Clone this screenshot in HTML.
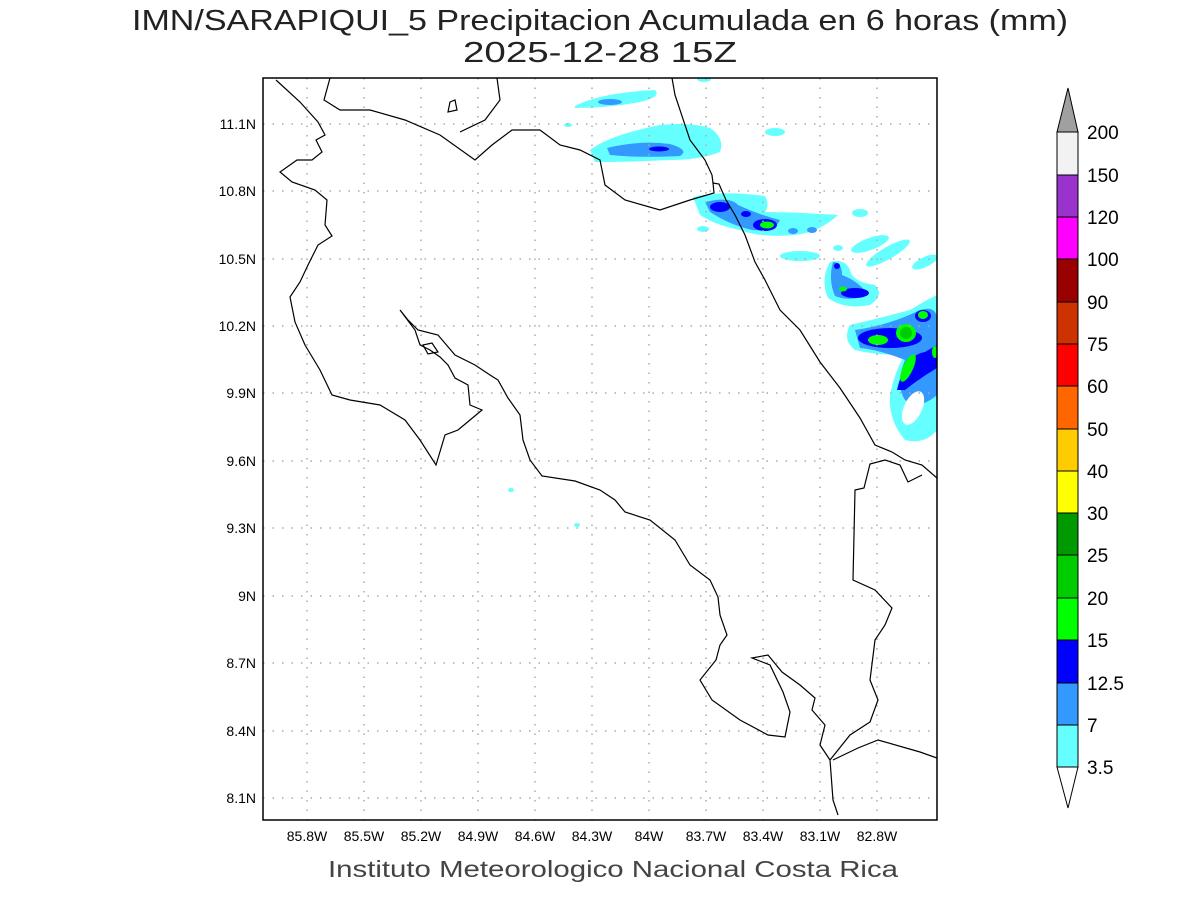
<!DOCTYPE html>
<html><head><meta charset="utf-8"><style>
body{margin:0;background:#fff;}
svg{display:block;font-family:"Liberation Sans",sans-serif;}
</style></head><body>
<svg width="1200" height="900" viewBox="0 0 1200 900" xmlns="http://www.w3.org/2000/svg">
<rect width="1200" height="900" fill="#fff"/>
<text x="600" y="30" font-size="29" text-anchor="middle" fill="#222" textLength="936" lengthAdjust="spacingAndGlyphs">IMN/SARAPIQUI_5 Precipitacion Acumulada en 6 horas (mm)</text>
<text x="600" y="62" font-size="29" text-anchor="middle" fill="#222" textLength="274" lengthAdjust="spacingAndGlyphs">2025-12-28 15Z</text>
<text x="613" y="877" font-size="23" text-anchor="middle" fill="#444" textLength="570" lengthAdjust="spacingAndGlyphs">Instituto Meteorologico Nacional Costa Rica</text>
<clipPath id="c"><rect x="263" y="78" width="674" height="742"/></clipPath>
<g clip-path="url(#c)">
<!-- precip -->
<g fill="#66ffff">
<path d="M575 106 Q600 93 655 90 Q662 97 640 102 Q610 108 575 108Z"/>
<path d="M590 150 Q610 135 660 125 Q690 122 710 128 Q725 138 720 152 Q700 160 670 160 Q630 162 595 162Z"/>
<path d="M693 197 Q720 190 765 196 Q770 205 765 212 Q790 212 838 215 Q820 232 795 235 Q760 238 740 230 Q715 225 700 215Z"/>
<path d="M830 262 Q845 258 850 270 Q852 282 875 285 Q885 295 870 305 Q845 310 828 298 Q820 280 830 262Z"/>
<path d="M850 325 Q880 318 910 310 Q930 298 937 295 L937 430 Q925 445 905 440 Q888 420 890 395 Q895 370 905 355 Q875 355 855 350 Q842 340 850 325Z"/>
<ellipse cx="800" cy="256" rx="20" ry="5"/><ellipse cx="870" cy="244" rx="20" ry="6" transform="rotate(-20 870 244)"/>
<ellipse cx="888" cy="253" rx="25" ry="6" transform="rotate(-30 888 253)"/>
<ellipse cx="925" cy="262" rx="14" ry="5" transform="rotate(-25 925 262)"/>
<ellipse cx="860" cy="213" rx="8" ry="4"/><ellipse cx="775" cy="132" rx="10" ry="4"/><ellipse cx="704" cy="79" rx="7" ry="3"/>
<ellipse cx="703" cy="229" rx="6" ry="3"/><ellipse cx="838" cy="248" rx="5" ry="3"/>
<ellipse cx="511" cy="490" rx="3" ry="2"/><ellipse cx="577" cy="525" rx="3" ry="2"/><ellipse cx="568" cy="125" rx="4" ry="2"/>
</g>
<g fill="#3399ff">
<ellipse cx="610" cy="102" rx="12" ry="3"/>
<path d="M607 148 Q640 140 670 144 Q690 150 680 156 Q640 158 610 155Z"/>
<path d="M705 202 Q730 196 738 205 Q760 215 780 220 Q775 232 752 230 Q730 225 710 212Z"/>
<path d="M833 262 Q842 262 842 275 Q860 282 868 295 Q850 302 835 296 Q828 280 833 262Z"/>
<path d="M855 330 Q890 325 920 310 Q937 305 937 320 L937 395 Q920 410 905 400 Q895 385 905 360 Q880 350 860 348Z"/>
<ellipse cx="793" cy="231" rx="5" ry="3"/><ellipse cx="812" cy="230" rx="5" ry="3"/>
</g>
<g fill="#0000ff">
<ellipse cx="659" cy="149" rx="10" ry="2.5"/><ellipse cx="720" cy="207" rx="10" ry="5"/><ellipse cx="746" cy="214" rx="5" ry="3"/>
<ellipse cx="765" cy="225" rx="12" ry="6"/><ellipse cx="837" cy="266" rx="3" ry="3"/><ellipse cx="855" cy="293" rx="14" ry="5"/>
<ellipse cx="890" cy="338" rx="32" ry="10"/><ellipse cx="923" cy="316" rx="8" ry="6"/><path d="M897 390 Q905 355 925 352 L937 345 L937 368 Q920 378 905 390Z"/>
</g>
<g fill="#00ff00">
<ellipse cx="767" cy="225" rx="7" ry="3.5"/><ellipse cx="843" cy="289" rx="4" ry="2.5"/>
<ellipse cx="878" cy="340" rx="10" ry="5"/><ellipse cx="906" cy="333" rx="10" ry="9"/><ellipse cx="923" cy="315" rx="5" ry="4"/>
<ellipse cx="908" cy="368" rx="5" ry="15" transform="rotate(25 908 368)"/><ellipse cx="935" cy="352" rx="3" ry="6"/>
</g>
<g fill="#00cc00"><ellipse cx="906" cy="333" rx="6" ry="6"/></g>
<g fill="#fff"><ellipse cx="913" cy="408" rx="9" ry="18" transform="rotate(25 913 408)"/></g>
<!-- grid -->
<g stroke="#aaa" stroke-width="1.5" stroke-dasharray="1.5 8">
<path d="M307 78V820M364 78V820M421 78V820M478 78V820M535 78V820M592 78V820M649 78V820M706 78V820M763 78V820M820 78V820M877 78V820"/>
<path d="M263 124H937M263 191H937M263 259H937M263 326H937M263 393H937M263 461H937M263 528H937M263 596H937M263 663H937M263 731H937M263 798H937"/>
</g>
<!-- coast -->
<g fill="none" stroke="#000" stroke-width="1.2">
<path d="M276 80 L300 102 L318 122 L325 135 L316 140 L322 152 L312 160 L297 160 L280 172 L292 182 L315 190 L327 200 L325 225 L332 236 L318 245 L308 265 L300 282 L290 297 L295 322 L305 345 L320 370 L332 395 L350 400 L380 405 L405 420 L420 440 L436 465 L445 435 L458 430 L470 420 L482 410 L470 405 L468 385 L455 378 L448 365 L440 357 L430 350 L420 345 L415 330 L400 310 L408 320 L418 330 L438 335 L455 355 L475 365 L490 375 L498 380 L508 398 L520 415 L523 440 L530 460 L542 476 L575 481 L600 490 L615 500 L625 512 L650 520 L675 540 L690 565 L710 580 L718 597 L720 615 L727 635 L720 645 L716 660 L700 680 L712 700 L740 720 L768 735 L785 737 L790 712 L783 692 L770 665 L752 658 L768 655 L782 672 L800 685 L815 698 L812 710 L825 725 L820 745 L830 760 L833 800 L838 815"/>
<path d="M423 345 L432 343 L438 352 L428 354Z"/>
<path d="M450 102 L455 100 L457 110 L448 112Z"/>
<path d="M330 78 L324 100 L340 110 L370 110 L405 120 L440 135 L475 160 L492 145 L512 130 L540 130 L560 145 L580 150 L600 160 L605 185 L625 200 L660 210 L690 200 L714 193 L713 183 L719 184 L726 200 L735 215 L745 235 L755 262 L765 280 L780 310 L800 330 L820 362 L840 388 L860 418 L875 445 L892 452 L905 460 L922 465 L937 478"/>
<path d="M672 78 L675 95 L690 140 L705 160 L712 175 L713 183"/>
<path d="M497 78 L500 100 L485 120 L460 132"/>
<path d="M922 475 L908 482 L900 465 L885 460 L870 464 L864 488 L855 490 L853 580 L875 590 L892 608 L885 625 L875 640 L870 680 L878 700 L870 722 L850 735 L830 760"/>
<path d="M833 760 L858 748 L878 740 L920 752 L937 758"/>
</g>
</g>
<rect x="263" y="78" width="674" height="742" fill="none" stroke="#000" stroke-width="1.5"/>
<!-- ticks -->
<g font-size="14" fill="#000" text-anchor="end">
<text x="256" y="129">11.1N</text><text x="256" y="196">10.8N</text><text x="256" y="264">10.5N</text><text x="256" y="331">10.2N</text><text x="256" y="398">9.9N</text><text x="256" y="466">9.6N</text><text x="256" y="533">9.3N</text><text x="256" y="601">9N</text><text x="256" y="668">8.7N</text><text x="256" y="736">8.4N</text><text x="256" y="803">8.1N</text>
</g>
<g font-size="14" fill="#000" text-anchor="middle">
<text x="307" y="841">85.8W</text><text x="364" y="841">85.5W</text><text x="421" y="841">85.2W</text><text x="478" y="841">84.9W</text><text x="535" y="841">84.6W</text><text x="592" y="841">84.3W</text><text x="649" y="841">84W</text><text x="706" y="841">83.7W</text><text x="763" y="841">83.4W</text><text x="820" y="841">83.1W</text><text x="877" y="841">82.8W</text>
</g>
<!-- colorbar -->
<g stroke="#000" stroke-width="1">
<path d="M1068 88 L1078 132 L1057 132Z" fill="#a0a0a0"/>
<rect x="1057" y="132" width="21" height="43" fill="#f2f2f2"/>
<rect x="1057" y="175" width="21" height="42" fill="#9933cc"/>
<rect x="1057" y="217" width="21" height="42" fill="#ff00ff"/>
<rect x="1057" y="259" width="21" height="43" fill="#990000"/>
<rect x="1057" y="302" width="21" height="42" fill="#cc3300"/>
<rect x="1057" y="344" width="21" height="42" fill="#ff0000"/>
<rect x="1057" y="386" width="21" height="43" fill="#ff6600"/>
<rect x="1057" y="429" width="21" height="42" fill="#ffcc00"/>
<rect x="1057" y="471" width="21" height="42" fill="#ffff00"/>
<rect x="1057" y="513" width="21" height="42" fill="#009900"/>
<rect x="1057" y="555" width="21" height="43" fill="#00cc00"/>
<rect x="1057" y="598" width="21" height="42" fill="#00ff00"/>
<rect x="1057" y="640" width="21" height="43" fill="#0000ff"/>
<rect x="1057" y="683" width="21" height="42" fill="#3399ff"/>
<rect x="1057" y="725" width="21" height="42" fill="#66ffff"/>
<path d="M1057 767 L1078 767 L1068 808Z" fill="#fff"/>
</g>
<g font-size="19" fill="#000">
<text x="1087" y="139">200</text><text x="1087" y="182">150</text><text x="1087" y="224">120</text><text x="1087" y="266">100</text><text x="1087" y="309">90</text><text x="1087" y="351">75</text><text x="1087" y="393">60</text><text x="1087" y="436">50</text><text x="1087" y="478">40</text><text x="1087" y="520">30</text><text x="1087" y="562">25</text><text x="1087" y="605">20</text><text x="1087" y="647">15</text><text x="1087" y="690">12.5</text><text x="1087" y="732">7</text><text x="1087" y="774">3.5</text>
</g>
</svg>
</body></html>
